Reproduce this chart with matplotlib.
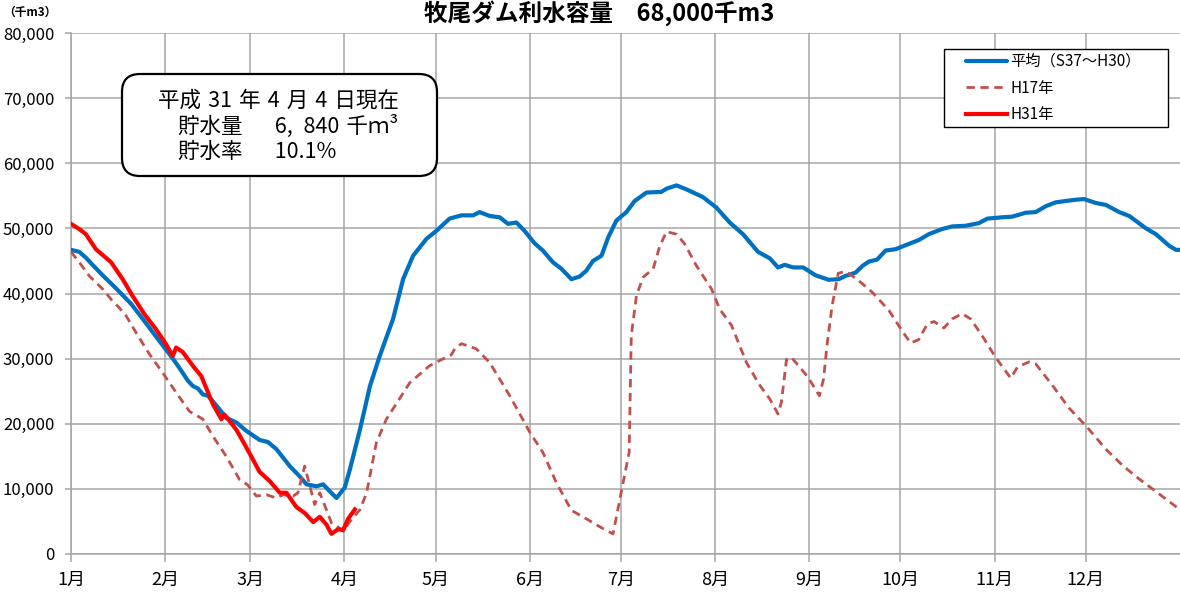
import matplotlib
matplotlib.use('Agg')
import matplotlib.pyplot as plt
from matplotlib.patches import FancyBboxPatch, Rectangle
from matplotlib.transforms import IdentityTransform
from matplotlib.ticker import FuncFormatter

plt.rcParams['font.family'] = ['Noto Sans CJK JP', 'DejaVu Sans']

# ---------------- data (day of year, 千m3) ----------------
month_starts = [0, 31, 59, 90, 120, 151, 181, 212, 243, 273, 304, 334]
month_labels = ['1月', '2月', '3月', '4月', '5月', '6月', '7月', '8月', '9月', '10月', '11月', '12月']

avg_day = [0, 2.7, 4.9, 7.1, 10.4, 14.8, 19.8, 23.6, 29.1, 32.4,
           35.2, 38.5, 40.1, 41.8, 43.4, 45.1, 48.4, 51.1, 54.4, 57.7,
           59.3, 62.1, 64.8, 67.6, 72.0, 75.3, 77.5, 80.8, 83.0, 85.2,
           87.4, 90.1, 91.8, 95.1, 98.4, 101.6, 106.0, 109.3, 112.6, 117.0,
           120.2, 124.6, 128.5, 132.3, 134.5, 137.8, 141.1, 143.8, 146.6, 149.3,
           152.6, 155.3, 158.6, 161.4, 164.7, 167.4, 169.6, 171.8, 174.6, 176.8,
           179.5, 182.8, 185.5, 189.4, 194.3, 196.0, 199.3, 202.5, 208.0, 212.4,
           216.8, 221.2, 226.1, 230.0, 232.7, 234.9, 237.7, 241.0, 245.0, 249.4,
           252.7, 254.9, 258.2, 260.4, 262.6, 265.3, 268.1, 271.4, 274.6, 279.0,
           282.3, 286.7, 290.0, 294.4, 298.8, 301.6, 306.5, 309.8, 314.2, 317.5,
           320.8, 324.1, 327.4, 330.7, 333.4, 337.3, 340.6, 345.0, 348.3, 353.8,
           357.1, 361.5, 363.7, 365]
avg_val = [46700, 46400, 45500, 44400, 42800, 40800, 38400, 36100, 32700, 30700,
           28900, 26600, 25800, 25400, 24500, 24300, 22500, 20900, 20200, 18900,
           18400, 17500, 17200, 16100, 13500, 11900, 10700, 10400, 10700, 9600,
           8600, 10200, 13000, 19100, 25800, 30400, 36100, 42200, 45800, 48400,
           49600, 51500, 52000, 52000, 52500, 51900, 51700, 50700, 50900, 49600,
           47700, 46600, 44800, 43800, 42200, 42600, 43500, 45000, 45800, 48600,
           51200, 52500, 54200, 55500, 55600, 56100, 56600, 56000, 54800, 53200,
           50900, 49100, 46400, 45400, 44000, 44400, 44000, 44000, 42800, 42100,
           42200, 42700, 43200, 44200, 44900, 45200, 46600, 46800, 47400, 48200,
           49100, 49900, 50300, 50400, 50800, 51500, 51700, 51800, 52400, 52500,
           53400, 54000, 54200, 54400, 54500, 53900, 53600, 52500, 51900, 50000,
           49100, 47300, 46700, 46700]

h17_day = [0, 2.7, 6.0, 10.4, 13.2, 15.9, 18.1, 21.4, 25.8, 30.2,
           34.6, 39.0, 43.4, 46.7, 51.1, 55.5, 58.2, 61.0, 64.3, 67.6,
           69.8, 73.1, 74.7, 76.9, 80.2, 81.9, 85.7, 87.4, 89.6, 92.3,
           95.1, 97.3, 100.5, 103.8, 111.5, 118.0, 121.3, 125.2, 126.3, 128.5,
           133.4, 137.8, 144.4, 151.0, 155.3, 159.7, 164.7, 169.6, 175.1, 178.4,
           181.1, 183.7, 184.4, 186.1, 188.3, 191.6, 193.8, 196.0, 199.3, 202.0,
           205.8, 210.8, 213.5, 217.4, 222.3, 226.7, 230.0, 232.7, 233.8, 235.5,
           237.1, 242.5, 246.3, 247.7, 248.8, 250.5, 252.5, 254.9, 258.7, 263.7,
           269.2, 273.5, 276.3, 279.0, 281.8, 284.0, 287.3, 290.0, 293.3, 296.1,
           299.9, 304.3, 309.3, 311.5, 315.3, 317.5, 323.0, 328.5, 334.0, 340.6,
           346.1, 351.6, 358.2, 365]
h17_val = [46400, 44800, 42700, 40700, 39100, 37800, 36600, 34000, 30700, 27800,
           24800, 21900, 20700, 18100, 15000, 11400, 10600, 8900, 9100, 8600,
           9100, 8900, 9400, 13500, 7600, 9400, 4800, 4300, 3500, 5300,
           6800, 9400, 17100, 20700, 26300, 28900, 29700, 30600, 31500, 32300,
           31500, 29400, 24300, 18700, 15600, 11000, 6700, 5400, 3900, 3100,
           9500, 15600, 33500, 39700, 42500, 43800, 47300, 49500, 49100, 47600,
           44300, 40700, 37600, 35100, 29400, 25900, 23800, 21500, 23300, 29900,
           30200, 27200, 24300, 26900, 32000, 38100, 43100, 43400, 42200, 40200,
           37400, 34300, 32400, 32900, 35300, 35700, 34700, 36100, 36900, 36100,
           33500, 30200, 27000, 28700, 29500, 29200, 25900, 22400, 19700, 16100,
           13600, 11500, 9200, 6800]

h31_day = [0, 3.0, 4.9, 8.2, 13.2, 17.0, 20.3, 24.2, 28.0, 31.3,
           33.5, 34.6, 36.8, 40.1, 42.9, 46.7, 49.5, 50.5, 54.4, 56.6,
           59.3, 62.1, 65.4, 68.7, 70.9, 74.2, 76.9, 79.7, 81.9, 84.1,
           85.7, 87.9, 89.6, 91.2, 93.4]
h31_val = [50700, 49800, 49100, 46800, 44800, 42200, 39600, 36800, 34500, 32200,
           30400, 31700, 31000, 28900, 27300, 23000, 20700, 21400, 19100, 17300,
           15000, 12600, 11200, 9400, 9400, 7200, 6300, 4900, 5700, 4500,
           3100, 3800, 3700, 5400, 6840]

series_labels = ['平均（S37〜H30）', 'H17年', 'H31年']
title_text = '牧尾ダム利水容量　68,000千m3'
unit_text = '（千m3）'
note_lines = ['平成\u200431\u2004年\u20044\u2004月\u20044\u2004日現在',
              '貯水量\u3000\u20026,\u2002840\u2004千ｍ³',
              '貯水率\u3000\u200210.1%']

# ---------------- figure ----------------
W, H = 1180, 599
fig = plt.figure(figsize=(W / 100, H / 100), dpi=100)
ax = fig.add_axes([71 / W, 1 - 554 / H, (1180 - 71) / W, (554 - 33) / H])

l1, = ax.plot(avg_day, avg_val, color='#0070C0', lw=3.0, solid_joinstyle='round',
              solid_capstyle='round', zorder=3)
l2, = ax.plot(h17_day, h17_val, color='#C0504D', lw=2.0, dashes=(3, 2), zorder=3)
l3, = ax.plot(h31_day, h31_val, color='#FF0000', lw=3.0, solid_joinstyle='round',
              zorder=4)

ax.set_xlim(0, 365)
ax.set_ylim(0, 80000)
ax.set_xticks(month_starts)
ax.set_xticklabels(month_labels)
ax.set_yticks(range(0, 80001, 10000))
ax.yaxis.set_major_formatter(FuncFormatter(lambda v, p: f'{int(v):,}'))

ax.grid(True, color='#a6a6a6', lw=1.1)
ax.set_axisbelow(True)
for s in ['top', 'right']:
    ax.spines[s].set_visible(False)
for s in ['left', 'bottom']:
    ax.spines[s].set_color('#a6a6a6')
    ax.spines[s].set_linewidth(1.1)
ax.tick_params(axis='x', length=6, width=1.1, color='#a6a6a6', pad=6, labelsize=13)
ax.tick_params(axis='y', length=4, width=1.1, color='#a6a6a6', pad=8, labelsize=12)

# title & unit
fig.text(599 / W, 1 - 21 / H, title_text, ha='center', va='baseline',
         fontsize=17, fontweight='bold')
fig.text(30 / W, 1 - 12 / H, unit_text, ha='center', va='center',
         fontsize=8.5, fontweight='bold')

# legend (frame drawn separately)
frame = Rectangle((944, H - 127), 224, 78, transform=IdentityTransform(),
                  fc='white', ec='black', lw=1.0, zorder=9)
fig.add_artist(frame)
leg = fig.legend([l1, l2, l3], series_labels, loc='center left',
                 bbox_to_anchor=(966 / W, 1 - 88 / H),
                 bbox_transform=fig.transFigure, frameon=False, fontsize=11,
                 handlelength=2.7, handletextpad=0.2, borderpad=0,
                 labelspacing=0.62, borderaxespad=0)
leg.set_zorder(10)

# annotation box
box = FancyBboxPatch((122, H - 176), 315, 102,
                     boxstyle='round,pad=0,rounding_size=18',
                     transform=IdentityTransform(), fc='white', ec='black',
                     lw=1.6, zorder=8)
fig.add_artist(box)
fig.text(158 / W, 1 - 101 / H, note_lines[0], ha='left', va='center', fontsize=15.5, zorder=9)
fig.text(178 / W, 1 - 126 / H, note_lines[1], ha='left', va='center', fontsize=15.5, zorder=9)
fig.text(178 / W, 1 - 152 / H, note_lines[2], ha='left', va='center', fontsize=15.5, zorder=9)

fig.savefig('out.png', dpi=100)
